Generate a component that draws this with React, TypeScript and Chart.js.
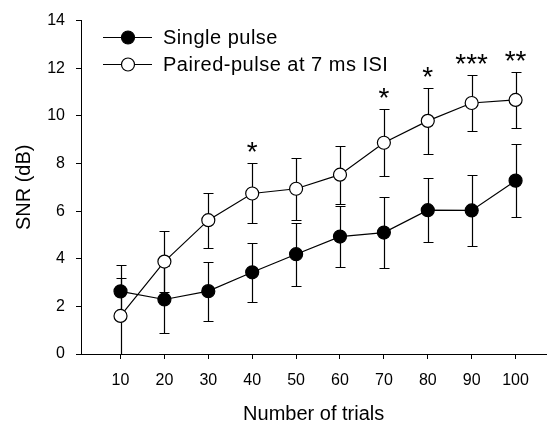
import React, { useEffect, useRef } from 'react';
import { Chart, registerables } from 'chart.js';

Chart.register(...registerables);

const FONT = '"Liberation Sans", Arial, Helvetica, sans-serif';

// ---- data ----
const trials = [10, 20, 30, 40, 50, 60, 70, 80, 90, 100];
const singleMean = [2.63, 2.29, 2.64, 3.43, 4.19, 4.93, 5.1, 6.04, 6.03, 7.28];
const singleErr = [1.1, 1.42, 1.24, 1.25, 1.32, 1.29, 1.5, 1.34, 1.49, 1.52];
const pairedMean = [1.6, 3.88, 5.62, 6.74, 6.94, 7.53, 8.87, 9.79, 10.54, 10.67];
const pairedErr = [1.6, 1.29, 1.15, 1.26, 1.3, 1.22, 1.4, 1.4, 1.18, 1.18];
const significance = ['', '', '', '*', '', '', '*', '*', '***', '**'];
const seriesLabels = ['Single pulse', 'Paired-pulse at 7 ms ISI'];
const yTickStep = 2;
const yMin = 0;
const yMax = 14;

export default function App() {
  const ref = useRef<HTMLCanvasElement>(null);

  useEffect(() => {
    document.body.style.margin = '0';
    const canvas = ref.current;
    if (!canvas) return;

    const errorBars = {
      id: 'errorBars',
      beforeDatasetsDraw(chart: any) {
        const { ctx, scales } = chart;
        const xs = scales.x;
        const ys = scales.y;
        ctx.save();
        ctx.strokeStyle = '#000';
        ctx.lineWidth = 1.2;
        const sets: [number[], number[]][] = [
          [singleMean, singleErr],
          [pairedMean, pairedErr],
        ];
        sets.forEach(([m, e]) => {
          trials.forEach((t, i) => {
            const px = Math.round(xs.getPixelForValue(t)) + 0.5;
            const top = Math.round(ys.getPixelForValue(m[i] + e[i])) + 0.5;
            const bot = Math.round(ys.getPixelForValue(Math.max(yMin, m[i] - e[i]))) + 0.5;
            ctx.beginPath();
            ctx.moveTo(px, top);
            ctx.lineTo(px, bot);
            ctx.moveTo(px - 5, top);
            ctx.lineTo(px + 5, top);
            ctx.moveTo(px - 5, bot);
            ctx.lineTo(px + 5, bot);
            ctx.stroke();
          });
        });
        ctx.restore();
      },
    };

    const stars = {
      id: 'stars',
      afterDatasetsDraw(chart: any) {
        const { ctx, scales } = chart;
        ctx.save();
        ctx.fillStyle = '#000';
        ctx.font = `28px ${FONT}`;
        ctx.textAlign = 'center';
        ctx.textBaseline = 'alphabetic';
        significance.forEach((s, i) => {
          if (!s) return;
          const px = scales.x.getPixelForValue(trials[i]);
          const top = Math.max(
            pairedMean[i] + pairedErr[i],
            singleMean[i] + singleErr[i]
          );
          const py = scales.y.getPixelForValue(top) - 2;
          ctx.fillText(s, px, py);
        });
        ctx.restore();
      },
    };

    const legendPlugin = {
      id: 'customLegend',
      afterDraw(chart: any) {
        const { ctx } = chart;
        ctx.save();
        const rows = [
          { fill: '#000', label: seriesLabels[0], y: 37 },
          { fill: '#fff', label: seriesLabels[1], y: 64 },
        ];
        rows.forEach((r) => {
          ctx.strokeStyle = '#000';
          ctx.lineWidth = 1.2;
          ctx.beginPath();
          ctx.moveTo(103, r.y + 0.5);
          ctx.lineTo(152, r.y + 0.5);
          ctx.stroke();
          ctx.beginPath();
          ctx.arc(128, r.y + 0.5, 6.5, 0, Math.PI * 2);
          ctx.fillStyle = r.fill;
          ctx.fill();
          ctx.stroke();
          ctx.fillStyle = '#000';
          ctx.font = `20px ${FONT}`;
          (ctx as any).letterSpacing = '0.5px';
          ctx.textAlign = 'left';
          ctx.textBaseline = 'middle';
          ctx.fillText(r.label, 163, r.y + 1);
        });
        ctx.restore();
      },
    };

    const chart = new Chart(canvas, {
      type: 'line',
      data: {
        datasets: [
          {
            label: seriesLabels[0],
            data: trials.map((x, i) => ({ x, y: singleMean[i] })),
            borderColor: '#000',
            borderWidth: 1.2,
            backgroundColor: '#000',
            pointRadius: 6.5,
            pointBackgroundColor: '#000',
            pointBorderColor: '#000',
            pointBorderWidth: 1.2,
            tension: 0,
            fill: false,
          },
          {
            label: seriesLabels[1],
            data: trials.map((x, i) => ({ x, y: pairedMean[i] })),
            borderColor: '#000',
            borderWidth: 1.2,
            backgroundColor: '#fff',
            pointRadius: 6.5,
            pointBackgroundColor: '#fff',
            pointBorderColor: '#000',
            pointBorderWidth: 1.2,
            tension: 0,
            fill: false,
          },
        ],
      },
      options: {
        responsive: false,
        animation: false,
        events: [],
        layout: { padding: { top: 18, right: 1, left: 0, bottom: 0 } },
        plugins: {
          legend: { display: false },
          tooltip: { enabled: false },
        },
        scales: {
          x: {
            type: 'linear',
            min: 1,
            max: 107,
            afterBuildTicks: (s: any) => {
              s.ticks = trials.map((v) => ({ value: v }));
            },
            afterFit: (s: any) => {
              s.height = 72;
            },
            grid: {
              drawOnChartArea: false,
              drawTicks: true,
              tickLength: 5,
              color: '#000',
              lineWidth: 1,
            },
            border: { display: true, color: '#000', width: 1 },
            ticks: {
              color: '#000',
              font: { family: FONT, size: 16 },
              padding: 12,
              maxRotation: 0,
              autoSkip: false,
            },
            title: {
              display: true,
              text: 'Number of trials',
              color: '#000',
              font: { family: FONT, size: 20 },
              padding: { top: 0, bottom: 0 },
            },
          },
          y: {
            type: 'linear',
            min: yMin,
            max: yMax,
            afterFit: (s: any) => {
              s.width = 81;
            },
            grid: {
              drawOnChartArea: false,
              drawTicks: true,
              tickLength: 5,
              color: '#000',
              lineWidth: 1,
            },
            border: { display: true, color: '#000', width: 1 },
            ticks: {
              stepSize: yTickStep,
              color: '#000',
              font: { family: FONT, size: 16 },
              padding: 11,
            },
            title: {
              display: true,
              text: 'SNR (dB)',
              color: '#000',
              font: { family: FONT, size: 20 },
              padding: { top: 12, bottom: 0 },
            },
          },
        },
      },
      plugins: [errorBars, stars, legendPlugin],
    } as any);

    return () => chart.destroy();
  }, []);

  return (
    <canvas
      ref={ref}
      width={554}
      height={426}
      style={{ display: 'block', width: 554, height: 426 }}
    />
  );
}
